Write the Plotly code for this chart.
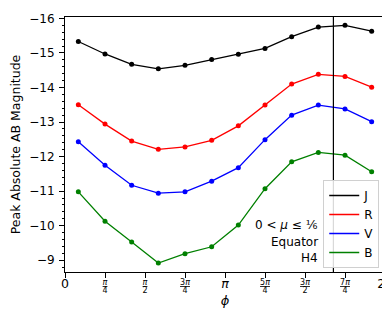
import numpy as np
import plotly.graph_objects as go

# phase angles (pi/12 + k*pi/6)
phi = [np.pi/12, 3*np.pi/12, 5*np.pi/12, 7*np.pi/12, 9*np.pi/12, 11*np.pi/12,
       13*np.pi/12, 15*np.pi/12, 17*np.pi/12, 19*np.pi/12, 21*np.pi/12, 23*np.pi/12]

J = [-15.33, -14.97, -14.67, -14.54, -14.64, -14.81, -14.96, -15.13, -15.47, -15.75, -15.80, -15.63]
R = [-13.50, -12.94, -12.45, -12.21, -12.28, -12.47, -12.89, -13.49, -14.10, -14.38, -14.32, -14.01]
V = [-12.43, -11.75, -11.17, -10.94, -10.98, -11.29, -11.68, -12.49, -13.20, -13.49, -13.38, -13.01]
B = [-10.98, -10.13, -9.53, -8.92, -9.19, -9.39, -10.02, -11.07, -11.85, -12.12, -12.04, -11.56]

series_names = ["J", "R", "V", "B"]
series_vals = [J, R, V, B]
series_colors = ["#000000", "#ff0000", "#0000ff", "#008000"]

vline_phi = 5.27

# fractional ticks (small stacked labels)
frac_vals = [np.pi/4, np.pi/2, 3*np.pi/4, 5*np.pi/4, 3*np.pi/2, 7*np.pi/4]
frac_num = ["<i>π</i>", "<i>π</i>", "3<i>π</i>", "5<i>π</i>", "3<i>π</i>", "7<i>π</i>"]
frac_den = ["4", "2", "4", "4", "2", "4"]
# whole ticks (large labels)
whole_vals = [0, np.pi, 2*np.pi]
whole_text = ["0", "<i>π</i>", "2<i>π</i>"]

frac_text = ["<span style='font-size:8px'><u>%s</u><br>%s</span>" % (n, d)
             for n, d in zip(frac_num, frac_den)]

annot_lines = ["0 < <i>μ</i> ≤ ⅙", "Equator", "H4"]

FONT = "DejaVu Sans"
XR = [0, 2*np.pi]
YR = [-8.66, -16.04]

fig = go.Figure()
for name, vals, col in zip(series_names, series_vals, series_colors):
    fig.add_trace(go.Scatter(x=phi, y=vals, mode="lines+markers", name=name,
                             line=dict(color=col, width=1.3),
                             marker=dict(color=col, size=5), showlegend=False))
# legend entries (lines only, like the reference)
for name, col in zip(series_names, series_colors):
    fig.add_trace(go.Scatter(x=[None], y=[None], mode="lines", name=name,
                             line=dict(color=col, width=1.5), showlegend=True))
# placeholder so the second x axis (whole-number ticks) is drawn
fig.add_trace(go.Scatter(x=[None], y=[None], xaxis="x2", yaxis="y", mode="lines",
                         showlegend=False, hoverinfo="skip"))

fig.add_shape(type="line", xref="x", yref="paper", x0=vline_phi, x1=vline_phi, y0=0, y1=1,
              line=dict(color="black", width=1.2))

ys = [216.5, 234, 249.5]
for txt, yp in zip(annot_lines, ys):
    fig.add_annotation(text=txt, xref="paper", yref="paper",
                       x=(312 - 57) / 320, y=(264 - yp) / 255,
                       xanchor="right", yanchor="middle", showarrow=False,
                       font=dict(family=FONT, size=12, color="black"))

fig.update_layout(
    width=390, height=312,
    margin=dict(l=57, r=13, t=9, b=48),
    paper_bgcolor="white", plot_bgcolor="white",
    font=dict(family=FONT, size=12, color="black"),
    showlegend=True,
    legend=dict(x=0.982, y=0.016, xanchor="right", yanchor="bottom",
                bgcolor="rgba(255,255,255,0.85)", bordercolor="#d0d0d0", borderwidth=1,
                font=dict(family=FONT, size=12), itemwidth=30, tracegroupgap=0),
    xaxis=dict(range=XR, tickmode="array", tickvals=frac_vals, ticktext=frac_text,
               tickfont=dict(family=FONT, size=6), ticks="outside", ticklen=5, tickcolor="black",
               ticklabeloverflow="allow", automargin=False,
               showline=True, linecolor="black", linewidth=1, mirror=True, showgrid=False,
               zeroline=False,
               title=dict(text="<i>ϕ</i>", font=dict(family=FONT, size=13), standoff=1)),
    xaxis2=dict(range=XR, overlaying="x", anchor="y", side="bottom", tickmode="array",
                tickvals=whole_vals, ticktext=whole_text, ticklabelstandoff=-5,
                tickfont=dict(family=FONT, size=12.5), ticks="outside", ticklen=5, tickcolor="black",
                ticklabeloverflow="allow", automargin=False,
                showline=False, showgrid=False, zeroline=False),
    yaxis=dict(range=YR, dtick=1, tick0=-16, ticks="outside", ticklen=5,
               tickcolor="black", tickfont=dict(family=FONT, size=12), ticklabelstandoff=2,
               minor=dict(dtick=0.2, ticks="outside", ticklen=2.5, tickcolor="black"),
               showline=True, linecolor="black", linewidth=1, mirror=True, showgrid=False,
               zeroline=False, automargin=False,
               title=dict(text="Peak Absolute AB Magnitude", font=dict(family=FONT, size=12.5), standoff=14)),
)

fig.write_html("out.html")
